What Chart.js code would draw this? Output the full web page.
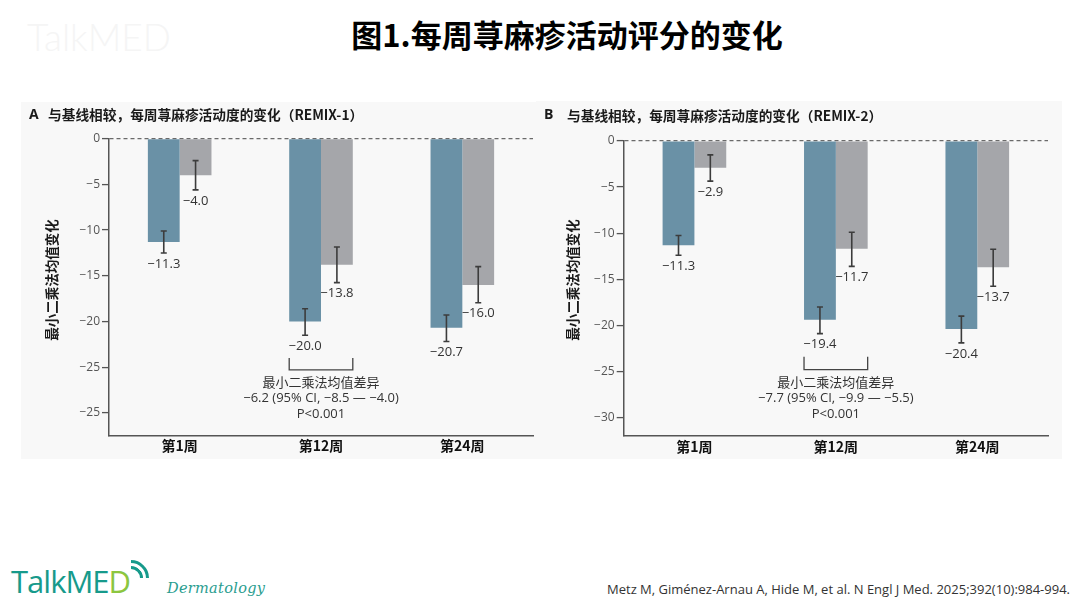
<!DOCTYPE html>
<html><head><meta charset="utf-8">
<script src="https://cdn.jsdelivr.net/npm/chart.js@4.4.1/dist/chart.umd.min.js"></script>
<style>
html,body{margin:0;padding:0;background:#fff;width:1080px;height:608px;overflow:hidden;font-family:"Noto Sans CJK SC","Noto Sans",sans-serif;}
#title{position:absolute;left:0;width:1134px;top:12px;text-align:center;font-size:31px;font-weight:bold;color:#000;line-height:44px;}
#wm{position:absolute;left:27px;top:14px;font-family:Lato,sans-serif;font-weight:300;font-size:37px;color:#f5f5f5;letter-spacing:0px;}
.panel{position:absolute;background:#f8f8f8;}
#pa{left:21px;top:102px;width:515px;height:357px;}
#pb{left:536px;top:101px;width:526px;height:358px;}
#logo{position:absolute;left:11px;top:560px;font-family:"Open Sans",sans-serif;font-size:31px;color:#179a8b;letter-spacing:-1px;line-height:42px;}
#logo .d{color:#8cc63f;}
.arc{position:absolute;border:3px solid transparent;border-top-color:#179a8b;border-radius:50%;transform:rotate(45deg);box-sizing:border-box;}
#arc1{left:119px;top:566px;width:24px;height:24px;}
#arc2{left:113px;top:560px;width:36px;height:36px;}
#derm{position:absolute;left:167px;top:580px;font-family:"DejaVu Serif",serif;font-style:italic;font-size:14.5px;color:#2a9d8f;letter-spacing:0.3px;}
#cite{position:absolute;left:607px;top:580px;font-family:"Open Sans",sans-serif;font-size:13px;color:#333;white-space:nowrap;}
</style></head>
<body>
<div id="wm">TalkMED</div>
<div id="title">图1.每周荨麻疹活动评分的变化</div>
<div class="panel" id="pa"><canvas id="ca" width="515" height="357"></canvas></div>
<div class="panel" id="pb"><canvas id="cb" width="526" height="358"></canvas></div>
<div id="logo">TalkME<span class="d">D</span></div>
<div class="arc" id="arc1"></div><div class="arc" id="arc2"></div>
<div id="derm">Dermatology</div>
<div id="cite">Metz M, Giménez-Arnau A, Hide M, et al. N Engl J Med. 2025;392(10):984-994.</div>
<script>
// ---- data ----
const categories = ['第1周', '第12周', '第24周'];

// Panel A (REMIX-1)
const blueA = [-11.3, -20.0, -20.7];
const grayA = [-4.0, -13.8, -16.0];
const blueA_lo = [-12.5, -21.5, -22.2];
const blueA_hi = [-10.1, -18.6, -19.3];
const grayA_lo = [-5.6, -15.75, -17.95];
const grayA_hi = [-2.4, -11.85, -14.0];
const tickValuesA = [0, -5, -10, -15, -20, -25, -30];
const tickLabelsA = ['0', '−5', '−10', '−15', '−20', '−25', '−25'];
const titleA = '与基线相较，每周荨麻疹活动度的变化（REMIX-1）';
const noteA = ['最小二乘法均值差异', '−6.2 (95% CI, −8.5 — −4.0)', 'P<0.001'];

// Panel B (REMIX-2)
const blueB = [-11.3, -19.4, -20.4];
const grayB = [-2.9, -11.7, -13.7];
const blueB_lo = [-12.4, -20.9, -21.9];
const blueB_hi = [-10.25, -18.0, -19.0];
const grayB_lo = [-4.35, -13.6, -15.75];
const grayB_hi = [-1.5, -9.9, -11.75];
const tickValuesB = [0, -5, -10, -15, -20, -25, -30];
const tickLabelsB = ['0', '−5', '−10', '−15', '−20', '−25', '−30'];
const titleB = '与基线相较，每周荨麻疹活动度的变化（REMIX-2）';
const noteB = ['最小二乘法均值差异', '−7.7 (95% CI, −9.9 — −5.5)', 'P<0.001'];

const yTitle = '最小二乘法均值变化';
const BLUE = '#6a91a6', GRAY = '#a5a6aa';
const fmt = v => v.toFixed(1).replace('-', '−');

const panelPlugin = {
  id: 'panel',
  afterDraw(chart) {
    const o = chart.options.plugins.panel;
    const ctx = chart.ctx, y = chart.scales.y;
    ctx.save();
    // panel title
    ctx.fillStyle = '#1a1a1a';
    ctx.textBaseline = 'middle';
    ctx.textAlign = 'left';
    ctx.font = 'bold 14px "Open Sans","Noto Sans CJK SC"';
    ctx.fillText(o.letter, o.letterX, o.titleY);
    ctx.font = 'bold 13.7px "Noto Sans CJK SC"';
    ctx.fillText(o.title, o.titleX, o.titleY);
    // y title
    ctx.save();
    ctx.translate(o.yTitleX, o.yTitleY);
    ctx.rotate(-Math.PI / 2);
    ctx.textAlign = 'center';
    ctx.font = 'bold 13.5px "Noto Sans CJK SC"';
    ctx.fillText(yTitle, 0, 0);
    ctx.restore();
    // error bars + labels
    chart.data.datasets.forEach((ds, di) => {
      const meta = chart.getDatasetMeta(di);
      meta.data.forEach((bar, i) => {
        const x = bar.x;
        const yl = y.getPixelForValue(ds.errLow[i]);
        const yh = y.getPixelForValue(ds.errHigh[i]);
        ctx.strokeStyle = '#3c3c3c';
        ctx.lineWidth = 1.6;
        ctx.beginPath();
        ctx.moveTo(x, yh); ctx.lineTo(x, yl);
        ctx.moveTo(x - 3, yh); ctx.lineTo(x + 3, yh);
        ctx.moveTo(x - 3, yl); ctx.lineTo(x + 3, yl);
        ctx.stroke();
        ctx.fillStyle = '#333';
        ctx.font = '13px "Open Sans"';
        ctx.textAlign = 'center';
        ctx.textBaseline = 'middle';
        ctx.fillText(fmt(ds.data[i]), x, yl + 11);
      });
    });
    // bracket under second category
    const b0 = chart.getDatasetMeta(0).data[1], b1 = chart.getDatasetMeta(1).data[1];
    const xl = b0.x - b0.width / 2, xr = b1.x + b1.width / 2;
    const yt = y.getPixelForValue(o.bracketTop), yb = y.getPixelForValue(o.bracketBottom);
    ctx.strokeStyle = '#444';
    ctx.lineWidth = 1.3;
    ctx.beginPath();
    ctx.moveTo(xl, yt); ctx.lineTo(xl, yb); ctx.lineTo(xr, yb); ctx.lineTo(xr, yt);
    ctx.stroke();
    const cx = (xl + xr) / 2;
    ctx.fillStyle = '#333';
    ctx.textAlign = 'center';
    ctx.textBaseline = 'middle';
    o.note.forEach((t, k) => {
      ctx.font = k === 0 ? '13px "Noto Sans CJK SC"' : '13px "Open Sans"';
      ctx.fillText(t, cx, yb + 12 + k * 16.2);
    });
    ctx.restore();
  }
};

function makeChart(id, blue, gray, bLo, bHi, gLo, gHi, tickValues, tickLabels, cfg) {
  return new Chart(document.getElementById(id), {
    type: 'bar',
    data: {
      labels: categories,
      datasets: [
        { data: blue, backgroundColor: BLUE, errLow: bLo, errHigh: bHi },
        { data: gray, backgroundColor: GRAY, errLow: gLo, errHigh: gHi }
      ]
    },
    options: {
      responsive: false,
      animation: false,
      layout: { padding: { left: 0, top: cfg.top, right: cfg.right, bottom: 0 } },
      datasets: { bar: { categoryPercentage: 0.45, barPercentage: 1.0 } },
      plugins: {
        legend: { display: false },
        tooltip: { enabled: false },
        panel: cfg.panel
      },
      scales: {
        x: {
          grid: { display: false, drawTicks: false },
          border: { display: true, color: '#555', width: 1.5 },
          ticks: { color: '#111', padding: 2, font: { family: '"Noto Sans CJK SC"', size: 14, weight: 'bold' } },
          afterFit: s => { s.height = cfg.xh; }
        },
        y: {
          min: cfg.min, max: 0,
          afterBuildTicks: s => { s.ticks = tickValues.map(v => ({ value: v })); },
          afterFit: s => { s.width = cfg.yw; },
          grid: {
            drawOnChartArea: true,
            color: c => (c.tick && c.tick.value === 0) ? '#6a6a6a' : 'rgba(0,0,0,0)',
            lineWidth: 1.2,
            tickColor: '#555',
            tickLength: 7,
            tickWidth: 1.3
          },
          border: { display: true, color: '#555', width: 1.5, dash: [4, 3] },
          ticks: {
            color: '#555', padding: 2,
            font: { family: '"Open Sans"', size: 12 },
            callback: (v) => tickLabels[tickValues.indexOf(v)]
          }
        }
      }
    },
    plugins: [panelPlugin]
  });
}

makeChart('ca', blueA, grayA, blueA_lo, blueA_hi, grayA_lo, grayA_hi, tickValuesA, tickLabelsA, {
  top: 36.7, right: 3, xh: 23.3, yw: 88, min: -32.5,
  panel: { letter: 'A', letterX: 8, titleX: 27, titleY: 13, title: titleA,
           yTitleX: 31, yTitleY: 178, bracketTop: -24.0, bracketBottom: -25.3, note: noteA }
});
makeChart('cb', blueB, grayB, blueB_lo, blueB_hi, grayB_lo, grayB_hi, tickValuesB, tickLabelsB, {
  top: 40, right: 14, xh: 23, yw: 87.7, min: -32.0,
  panel: { letter: 'B', letterX: 8, titleX: 31, titleY: 14.5, title: titleB,
           yTitleX: 37, yTitleY: 179, bracketTop: -23.4, bracketBottom: -24.8, note: noteB }
});
</script>
</body></html>
